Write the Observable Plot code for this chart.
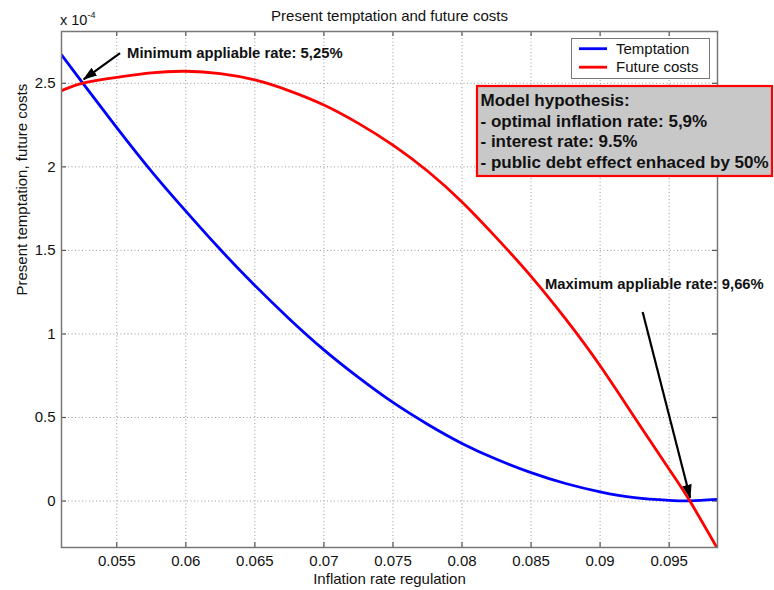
<!DOCTYPE html>
<html>
<head>
<meta charset="utf-8">
<script src="https://cdn.jsdelivr.net/npm/d3@7"></script>
<script src="https://cdn.jsdelivr.net/npm/@observablehq/plot@0.6"></script>
<style>
  body { margin: 0; background: #fff; }
  svg { font-family: "Liberation Sans", Arial, Helvetica, sans-serif; }
</style>
</head>
<body>
<script>
// ---- data (values in units of 1e-4) ----
const rates = [0.051, 0.0525, 0.055, 0.0575, 0.06, 0.0625, 0.065, 0.0675, 0.07, 0.0725, 0.075, 0.0775, 0.08, 0.0825, 0.085, 0.0875, 0.09, 0.0925, 0.095, 0.0965, 0.0985];
const temptation = [2.67, 2.505, 2.235, 1.975, 1.735, 1.505, 1.29, 1.09, 0.905, 0.74, 0.59, 0.46, 0.345, 0.25, 0.17, 0.105, 0.055, 0.02, 0.004, 0.001, 0.01];
const futureCosts = [2.456, 2.50, 2.535, 2.563, 2.572, 2.558, 2.52, 2.455, 2.37, 2.26, 2.13, 1.975, 1.79, 1.575, 1.345, 1.09, 0.81, 0.50, 0.19, 0.0, -0.285];
const seriesNames = ["Temptation", "Future costs"];
const seriesColors = ["#0000ff", "#ff0000"];

const xTicks = [0.055, 0.06, 0.065, 0.07, 0.075, 0.08, 0.085, 0.09, 0.095];
const xTickLabels = ["0.055", "0.06", "0.065", "0.07", "0.075", "0.08", "0.085", "0.09", "0.095"];
const yTicks = [0, 0.5, 1, 1.5, 2, 2.5];
const yTickLabels = ["0", "0.5", "1", "1.5", "2", "2.5"];
const xDomain = [0.051, 0.0985];
const yDomain = [-0.278, 2.81];

const arrowNotes = [
  {label: "Minimum appliable rate: 5,25%", tx: 0.05575, ty: 2.68, x1: 0.05524, y1: 2.68, x2: 0.05261, y2: 2.524},
  {label: "Maximum appliable rate: 9,66%", tx: 0.08601, ty: 1.30, x1: 0.09308, y1: 1.131, x2: 0.09652, y2: 0.02}
];
const hypothesis = [
  "Model hypothesis:",
  "- optimal inflation rate: 5,9%",
  "- interest rate: 9.5%",
  "- public debt effect enhaced by 50%"
];

const rows = [];
rates.forEach((r, i) => {
  rows.push({rate: r, value: temptation[i], series: seriesNames[0]});
});
rates.forEach((r, i) => {
  rows.push({rate: r, value: futureCosts[i], series: seriesNames[1]});
});

const W = 774, H = 590;
const mL = 61, mR = 57, mT = 31, mB = 43;
const fw = W - mL - mR, fh = H - mT - mB;
const tickLen = 5;
const font = 15;

const svg = Plot.plot({
  width: W,
  height: H,
  marginLeft: mL, marginRight: mR, marginTop: mT, marginBottom: mB,
  style: {fontFamily: '"Liberation Sans", Arial, Helvetica, sans-serif', fontSize: font + "px", background: "#fff"},
  x: {domain: xDomain},
  y: {domain: yDomain},
  color: {domain: seriesNames, range: seriesColors},
  marks: [
    Plot.gridX(xTicks, {stroke: "#9a9a9a", strokeOpacity: 1, strokeDasharray: "1,2.5"}),
    Plot.gridY(yTicks, {stroke: "#9a9a9a", strokeOpacity: 1, strokeDasharray: "1,2.5"}),
    Plot.axisX(xTicks, {anchor: "bottom", tickSize: 0, tickPadding: 8, tickFormat: (d, i) => xTickLabels[i], fontSize: font, fill: "#111", label: null}),
    Plot.axisY(yTicks, {anchor: "left", tickSize: 0, tickPadding: 6, tickFormat: (d, i) => yTickLabels[i], fontSize: font, fill: "#111", label: null}),
    // inward tick marks on all four sides
    Plot.tickX(xTicks, {x: d => d, insetTop: fh - tickLen, stroke: "#555", strokeWidth: 1.2}),
    Plot.tickX(xTicks, {x: d => d, insetBottom: fh - tickLen, stroke: "#555", strokeWidth: 1.2}),
    Plot.tickY(yTicks, {y: d => d, insetRight: fw - tickLen, stroke: "#555", strokeWidth: 1.2}),
    Plot.tickY(yTicks, {y: d => d, insetLeft: fw - tickLen, stroke: "#555", strokeWidth: 1.2}),
    Plot.line(rows, {x: "rate", y: "value", z: "series", stroke: "series", strokeWidth: 2.8, curve: "natural", clip: true}),
    Plot.frame({stroke: "#777", strokeWidth: 1.5}),
    Plot.link(arrowNotes, {x1: "x1", y1: "y1", x2: "x2", y2: "y2", stroke: "#000", strokeWidth: 2.2}),
    Plot.text(arrowNotes, {x: "tx", y: "ty", text: "label", textAnchor: "start", fontWeight: "bold", fontSize: 14.8, fill: "#111"}),
    Plot.text(["Present temptation and future costs"], {frameAnchor: "top", dy: -21, fontSize: font, fill: "#111"}),
    Plot.text(["Inflation rate regulation"], {frameAnchor: "bottom", dy: 36, fontSize: font, fill: "#111"}),
    Plot.text(["Present temptation, future costs"], {frameAnchor: "left", dx: -39, dy: 6, rotate: -90, fontSize: font, fill: "#111"})
  ]
});
document.body.append(svg);

const s = d3.select(svg);
// filled arrow heads
const defs = s.append("defs");
defs.append("marker")
  .attr("id", "ahead")
  .attr("markerUnits", "userSpaceOnUse")
  .attr("viewBox", "0 -6 14 12")
  .attr("refX", 13).attr("refY", 0)
  .attr("markerWidth", 14).attr("markerHeight", 12)
  .attr("orient", "auto")
  .append("path").attr("d", "M0,-4.8L14,0L0,4.8Z").attr("fill", "#000");
s.selectAll('g[aria-label="link"] path').attr("marker-end", "url(#ahead)");

// x 10^-4 exponent label
const ex = s.append("text").attr("x", 60).attr("y", 25).attr("font-size", 14.5)
  .attr("fill", "#111").attr("text-anchor", "start");
ex.append("tspan").text("x 10");
ex.append("tspan").attr("dy", -7).attr("font-size", 9).text("-4");

// legend
const lg = s.append("g").attr("text-anchor", "start");
lg.append("rect").attr("x", 571.5).attr("y", 38.5).attr("width", 138).attr("height", 40)
  .attr("fill", "#fff").attr("stroke", "#777").attr("stroke-width", 1);
seriesNames.forEach((name, i) => {
  const yy = 48.7 + i * 18.5;
  lg.append("line").attr("x1", 579).attr("x2", 607).attr("y1", yy).attr("y2", yy)
    .attr("stroke", seriesColors[i]).attr("stroke-width", 2.8);
  lg.append("text").attr("x", 616).attr("y", yy).attr("dy", "0.35em")
    .attr("font-size", font).attr("fill", "#111").text(name);
});

// hypothesis box
const hb = s.append("g").attr("text-anchor", "start");
hb.append("rect").attr("x", 477).attr("y", 86).attr("width", 295).attr("height", 90)
  .attr("fill", "#c8c8c8").attr("stroke", "#ff0000").attr("stroke-width", 2.2);
hypothesis.forEach((t, i) => {
  hb.append("text").attr("x", 480.5).attr("y", 100.5 + i * 20.5).attr("dy", "0.35em")
    .attr("font-size", 17).attr("font-weight", "bold").attr("fill", "#111").text(t);
});
</script>
</body>
</html>
